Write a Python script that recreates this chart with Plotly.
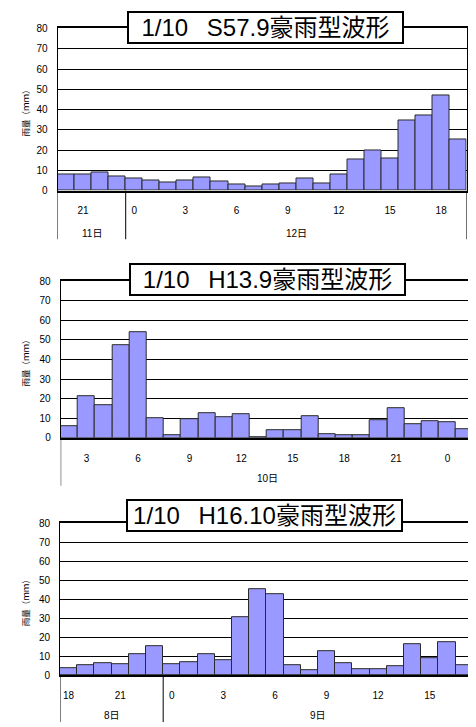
import plotly.graph_objects as go

W, H = 476, 727

# ---------------- data ----------------
titles = ["1/10\u2002\u00a0S57.9豪雨型波形", "1/10\u2002\u00a0H13.9豪雨型波形", "1/10\u2002\u00a0H16.10豪雨型波形"]

rain_s57 = [7.8, 7.8, 8.9, 7.0, 5.8, 5.2, 3.9, 4.9, 6.3, 4.4, 2.8, 1.9,
            3.2, 3.7, 5.8, 3.4, 7.8, 15.5, 19.6, 16.0, 34.8, 37.2, 47.0, 25.1]
hours_s57 = [20, 21, 22, 23, 0, 1, 2, 3, 4, 5, 6, 7,
             8, 9, 10, 11, 12, 13, 14, 15, 16, 17, 18, 19]
days_s57 = ["11日", "11日", "11日", "11日"] + ["12日"] * 20

rain_h13 = [6.0, 21.5, 16.9, 47.5, 53.7, 10.2, 1.3, 9.7, 12.4, 10.7, 11.9, 0.5,
            4.0, 4.0, 11.2, 2.0, 1.3, 1.3, 9.2, 14.9, 7.0, 8.6, 8.2, 4.5]
hours_h13 = [2, 3, 4, 5, 6, 7, 8, 9, 10, 11, 12, 13,
             14, 15, 16, 17, 18, 19, 20, 21, 22, 23, 0, 1]
days_h13 = ["10日"] * 24

rain_h16 = [3.6, 5.0, 6.2, 5.7, 10.9, 15.4, 5.7, 6.7, 11.2, 7.8, 30.7, 45.1,
            42.7, 5.2, 2.6, 12.4, 6.2, 3.1, 3.1, 4.7, 16.1, 8.8, 17.4, 5.2]
hours_h16 = [18, 19, 20, 21, 22, 23, 0, 1, 2, 3, 4, 5,
             6, 7, 8, 9, 10, 11, 12, 13, 14, 15, 16, 17]
days_h16 = ["8日"] * 6 + ["9日"] * 18

y_ticks = [0, 10, 20, 30, 40, 50, 60, 70, 80]
y_label = "雨量（ｍｍ）"

panels = [
    dict(title=titles[0], rain=rain_s57, hours=hours_s57, days=days_s57),
    dict(title=titles[1], rain=rain_h13, hours=hours_h13, days=days_h13),
    dict(title=titles[2], rain=rain_h16, hours=hours_h16, days=days_h16),
]

# ---------------- layout geometry (page pixels) ----------------
geom = [
    dict(x0=57.5, x1=466.7, top=22.7, bot=187.3, day=230.7, end=236.7, tx=265.0, ty=21.2),
    dict(x0=60.7, x1=473.3, top=279.3, bot=438.3, day=480.0, end=487.0, tx=267.0, ty=277.5),
    dict(x0=60.0, x1=472.7, top=525.0, bot=679.3, day=720.7, end=727.0, tx=264.5, ty=517.5),
]

OFF = 8  # page body margin offset

def px(x):
    return (x - OFF) / W

def py(y):
    return 1 - (y - OFF) / H

NARROW = "Liberation Sans Narrow, Arial Narrow, Liberation Sans, Arial, sans-serif"
TITLEF = "Liberation Sans, Arial, Noto Sans CJK JP, sans-serif"

fig = go.Figure()
layout = dict(width=W, height=H, margin=dict(l=0, r=0, t=0, b=0),
              paper_bgcolor="white", plot_bgcolor="white",
              showlegend=False, bargap=0)
shapes, annotations = [], []

for i, (p, g) in enumerate(zip(panels, geom)):
    n = i + 1
    xa = "x" if n == 1 else f"x{n}"
    ya = "y" if n == 1 else f"y{n}"
    idx = list(range(len(p["rain"])))
    fig.add_trace(go.Bar(
        x=idx, y=p["rain"], xaxis=xa, yaxis=ya, width=1.0,
        marker=dict(color="#9999FF", line=dict(color="#2a2a2a", width=1)),
        hoverinfo="y",
    ))
    tickvals = [k for k, h in zip(idx, p["hours"]) if h % 3 == 0]
    ticktext = [str(h) for h in p["hours"] if h % 3 == 0]
    layout[f"xaxis{'' if n == 1 else n}"] = dict(
        domain=[px(g["x0"]), px(g["x1"])], anchor=ya,
        range=[-0.5, len(idx) - 0.5], tickvals=tickvals, ticktext=ticktext,
        showgrid=False, zeroline=False, showline=True, linecolor="black",
        linewidth=1.5, mirror=True, ticks="", ticklabelstandoff=10,
        tickfont=dict(family=NARROW, size=10, color="black"),
    )
    layout[f"yaxis{'' if n == 1 else n}"] = dict(
        domain=[py(g["bot"]), py(g["top"])], anchor=xa,
        range=[0, 80], tickvals=y_ticks, showgrid=True, gridcolor="black",
        gridwidth=1, zeroline=False, showline=True, linecolor="black",
        linewidth=1, mirror=True, ticks="", ticklabelstandoff=7,
        tickfont=dict(family=NARROW, size=10, color="black"),
    )
    xref = xa
    # category separators (edges + day boundaries)
    bounds = [-0.5]
    runs = []
    start = 0
    for k in range(1, len(idx) + 1):
        if k == len(idx) or p["days"][k] != p["days"][start]:
            runs.append((start, k - 1, p["days"][start]))
            bounds.append(k - 0.5)
            start = k
    for b in bounds:
        shapes.append(dict(type="line", xref=xref, yref="paper",
                           x0=b, x1=b, y0=py(g["bot"]), y1=py(g["end"]),
                           line=dict(color="black", width=1)))
    for s, e, d in runs:
        annotations.append(dict(text=d, xref=xref, yref="paper",
                                x=(s + e) / 2, y=py(g["day"]), showarrow=False,
                                font=dict(family=NARROW + ", Noto Sans CJK JP", size=10, color="black"),
                                xanchor="center", yanchor="middle"))
    # title box
    annotations.append(dict(text=p["title"], xref="paper", yref="paper",
                            x=px(g["tx"]), y=py(g["ty"]), showarrow=False,
                            xanchor="center", yanchor="middle",
                            font=dict(family=TITLEF, size=24, color="black"),
                            bgcolor="white", bordercolor="black", borderwidth=2,
                            borderpad=0, width=273, height=29))
    # y-axis title
    annotations.append(dict(text=y_label, xref="paper", yref="paper",
                            x=px(25), y=py((g["top"] + g["bot"]) / 2 + 2),
                            showarrow=False, textangle=-90,
                            xanchor="center", yanchor="middle",
                            font=dict(family="Noto Sans CJK JP", size=8.5, color="black")))

layout["shapes"] = shapes
layout["annotations"] = annotations
fig.update_layout(**layout)
fig.write_html("out.html")
